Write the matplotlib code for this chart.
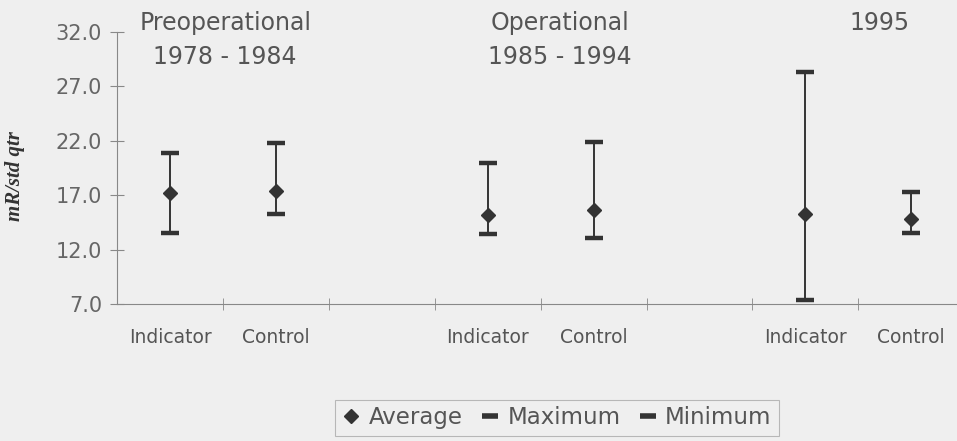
import numpy as np
import matplotlib
matplotlib.use("Agg")
import matplotlib.pyplot as plt
from matplotlib.lines import Line2D

# categories along the x axis (blank slots separate the periods)
categories = ["Indicator", "Control", "", "Indicator", "Control", "", "Indicator", "Control"]
positions = [0, 1, 3, 4, 6, 7]

# values, mR/std qtr
average = [17.2, 17.4, 15.2, 15.6, 15.3, 14.8]
maximum = [20.9, 21.8, 20.0, 21.9, 28.3, 17.3]
minimum = [13.5, 15.3, 13.4, 13.1, 7.4, 13.5]

periods = ["Preoperational\n1978 - 1984", "Operational\n1985 - 1994", "1995"]
period_x = [0.52, 3.68, 6.7]

bg = "#efefef"
ink = "#333333"
txt = "#555555"

fig = plt.figure(figsize=(9.57, 4.41), dpi=100, facecolor=bg)
ax = fig.add_axes([0.1225, 0.3107, 0.885, 0.6168], facecolor=bg)

ax.vlines(positions, minimum, maximum, color=ink, lw=1.4, zorder=2)
ax.plot(positions, maximum, ls="none", marker="_", ms=13, mew=3.2, color=ink, zorder=3)
ax.plot(positions, minimum, ls="none", marker="_", ms=13, mew=3.2, color=ink, zorder=3)
ax.plot(positions, average, ls="none", marker="D", ms=7.5, color=ink, zorder=4)

ax.set_xlim(-0.5, 7.5)
ax.set_ylim(7, 32)
ax.set_yticks(np.arange(7, 33, 5))
ax.set_yticklabels(["%.1f" % v for v in np.arange(7, 33, 5)])
ax.set_xticks(range(len(categories)))
ax.set_xticklabels(categories)
ax.set_xticks(np.arange(0.5, 7, 1), minor=True)
ax.tick_params(axis="x", which="major", length=0, pad=17, labelsize=13.5, labelcolor=txt)
ax.tick_params(axis="x", which="minor", direction="inout", length=8, color="#888888")
ax.tick_params(axis="y", direction="inout", length=10, color="#888888",
               labelsize=15, labelcolor="#666666", pad=6)

for side in ["top", "right"]:
    ax.spines[side].set_visible(False)
for side in ["left", "bottom"]:
    ax.spines[side].set_color("#888888")
    ax.spines[side].set_linewidth(0.8)

for label, x in zip(periods, period_x):
    ax.text(x, 33.9, label, ha="center", va="top", fontsize=17, color=txt,
            linespacing=1.5, clip_on=False)

fig.text(0.016, 0.60, "mR/std qtr", rotation=90, ha="center", va="center",
         fontsize=15, fontweight="bold", fontstyle="italic",
         family="Liberation Serif", color=ink)

handles = [
    Line2D([], [], ls="none", marker="D", ms=7, color=ink),
    Line2D([], [], ls="none", marker="_", ms=12, mew=4, color=ink),
    Line2D([], [], ls="none", marker="_", ms=12, mew=4, color=ink),
]
leg = fig.legend(handles, ["Average", "Maximum", "Minimum"], loc="upper center",
                 bbox_to_anchor=(0.582, 0.12), ncol=3, frameon=True, fancybox=False,
                 fontsize=16.5, handlelength=0.8, handletextpad=0.35, columnspacing=0.8,
                 borderpad=0.3, facecolor=bg, edgecolor="#aaaaaa")
for t in leg.get_texts():
    t.set_color(txt)
leg.get_frame().set_linewidth(0.8)

fig.savefig("out.png", dpi=100, facecolor=bg)
